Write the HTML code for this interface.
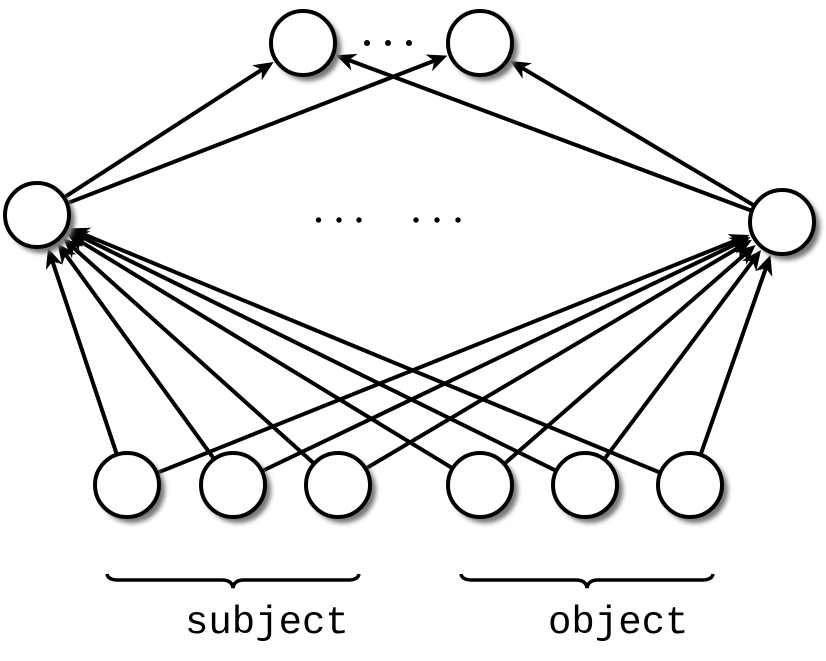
<!DOCTYPE html>
<html><head><meta charset="utf-8"><style>html,body{margin:0;padding:0;background:#fff}</style></head>
<body>
<svg id="s" width="826" height="656" viewBox="0 0 826 656" xmlns="http://www.w3.org/2000/svg">
<defs>
<marker id="a" markerWidth="10" markerHeight="10" refX="9" refY="5" orient="auto" markerUnits="userSpaceOnUse" viewBox="0 0 10 10">
</marker>
<filter id="sh" x="-30%" y="-30%" width="170%" height="170%"><feGaussianBlur stdDeviation="2.5"/></filter>
</defs>
<g id="edges" stroke="#000" stroke-width="4" fill="none"></g>
<g id="heads" fill="#000"></g>
<g id="nodes"></g>
<g fill="#000">
<circle cx="367" cy="43" r="3"/><circle cx="388" cy="43" r="3"/><circle cx="409" cy="43" r="3"/>
<circle cx="318.5" cy="220" r="2.7"/><circle cx="339" cy="220" r="2.7"/><circle cx="359" cy="220" r="2.7"/>
<circle cx="416" cy="220" r="2.7"/><circle cx="437" cy="220" r="2.7"/><circle cx="458" cy="220" r="2.7"/>
</g>
<path d="M107,574 Q108,580 118,580 L222,580 Q232,580 233,588 Q234,580 244,580 L348,580 Q358,580 359,574" stroke="#000" stroke-width="3.5" fill="none"/>
<path d="M461,574 Q462,580 472,580 L576,580 Q586,580 587,588 Q588,580 598,580 L702,580 Q712,580 713,574" stroke="#000" stroke-width="3.5" fill="none"/>
<text x="185" y="633" font-family="Liberation Mono, monospace" font-size="39" fill="#000">subject</text>
<text x="548" y="633" font-family="Liberation Mono, monospace" font-size="39" fill="#000">object</text>
</svg>
<script>
var R=33;
var N={t1:[303,43],t2:[480,43],L:[37,215],Rr:[782,222]};
var B=[127,233,338,480,585,690];
B.forEach(function(x,i){N['b'+i]=[x,485];});
var E=[['L','t1'],['L','t2'],['Rr','t1'],['Rr','t2']];
for(var i=0;i<6;i++){E.push(['b'+i,'L']);E.push(['b'+i,'Rr']);}
var ns='http://www.w3.org/2000/svg';
var eg=document.getElementById('edges'),hg=document.getElementById('heads'),ng=document.getElementById('nodes');
E.forEach(function(e){
 var a=N[e[0]],b=N[e[1]];var dx=b[0]-a[0],dy=b[1]-a[1],d=Math.sqrt(dx*dx+dy*dy);var ux=dx/d,uy=dy/d;
 var sx=a[0]+ux*R,sy=a[1]+uy*R,tx=b[0]-ux*(R+2),ty=b[1]-uy*(R+2);
 var bx=tx-ux*14,by=ty-uy*14;
 var l=document.createElementNS(ns,'line');l.setAttribute('x1',sx);l.setAttribute('y1',sy);l.setAttribute('x2',bx+ux*3);l.setAttribute('y2',by+uy*3);eg.appendChild(l);
 var px=-uy,py=ux;
 var p=document.createElementNS(ns,'polygon');
 p.setAttribute('points',[tx+','+ty,(tx-ux*20+px*9)+','+(ty-uy*20+py*9),bx+','+by,(tx-ux*20-px*9)+','+(ty-uy*20-py*9)].join(' '));
 hg.appendChild(p);
});
Object.keys(N).forEach(function(k){
 var c=N[k];
 var s=document.createElementNS(ns,'circle');s.setAttribute('cx',c[0]+5);s.setAttribute('cy',c[1]+5);s.setAttribute('r',R);s.setAttribute('fill','#777');s.setAttribute('filter','url(#sh)');ng.appendChild(s);
 var o=document.createElementNS(ns,'circle');o.setAttribute('cx',c[0]);o.setAttribute('cy',c[1]);o.setAttribute('r',R-1);o.setAttribute('fill','#fff');o.setAttribute('stroke','#000');o.setAttribute('stroke-width','4');ng.appendChild(o);
});
</script>
</body></html>
